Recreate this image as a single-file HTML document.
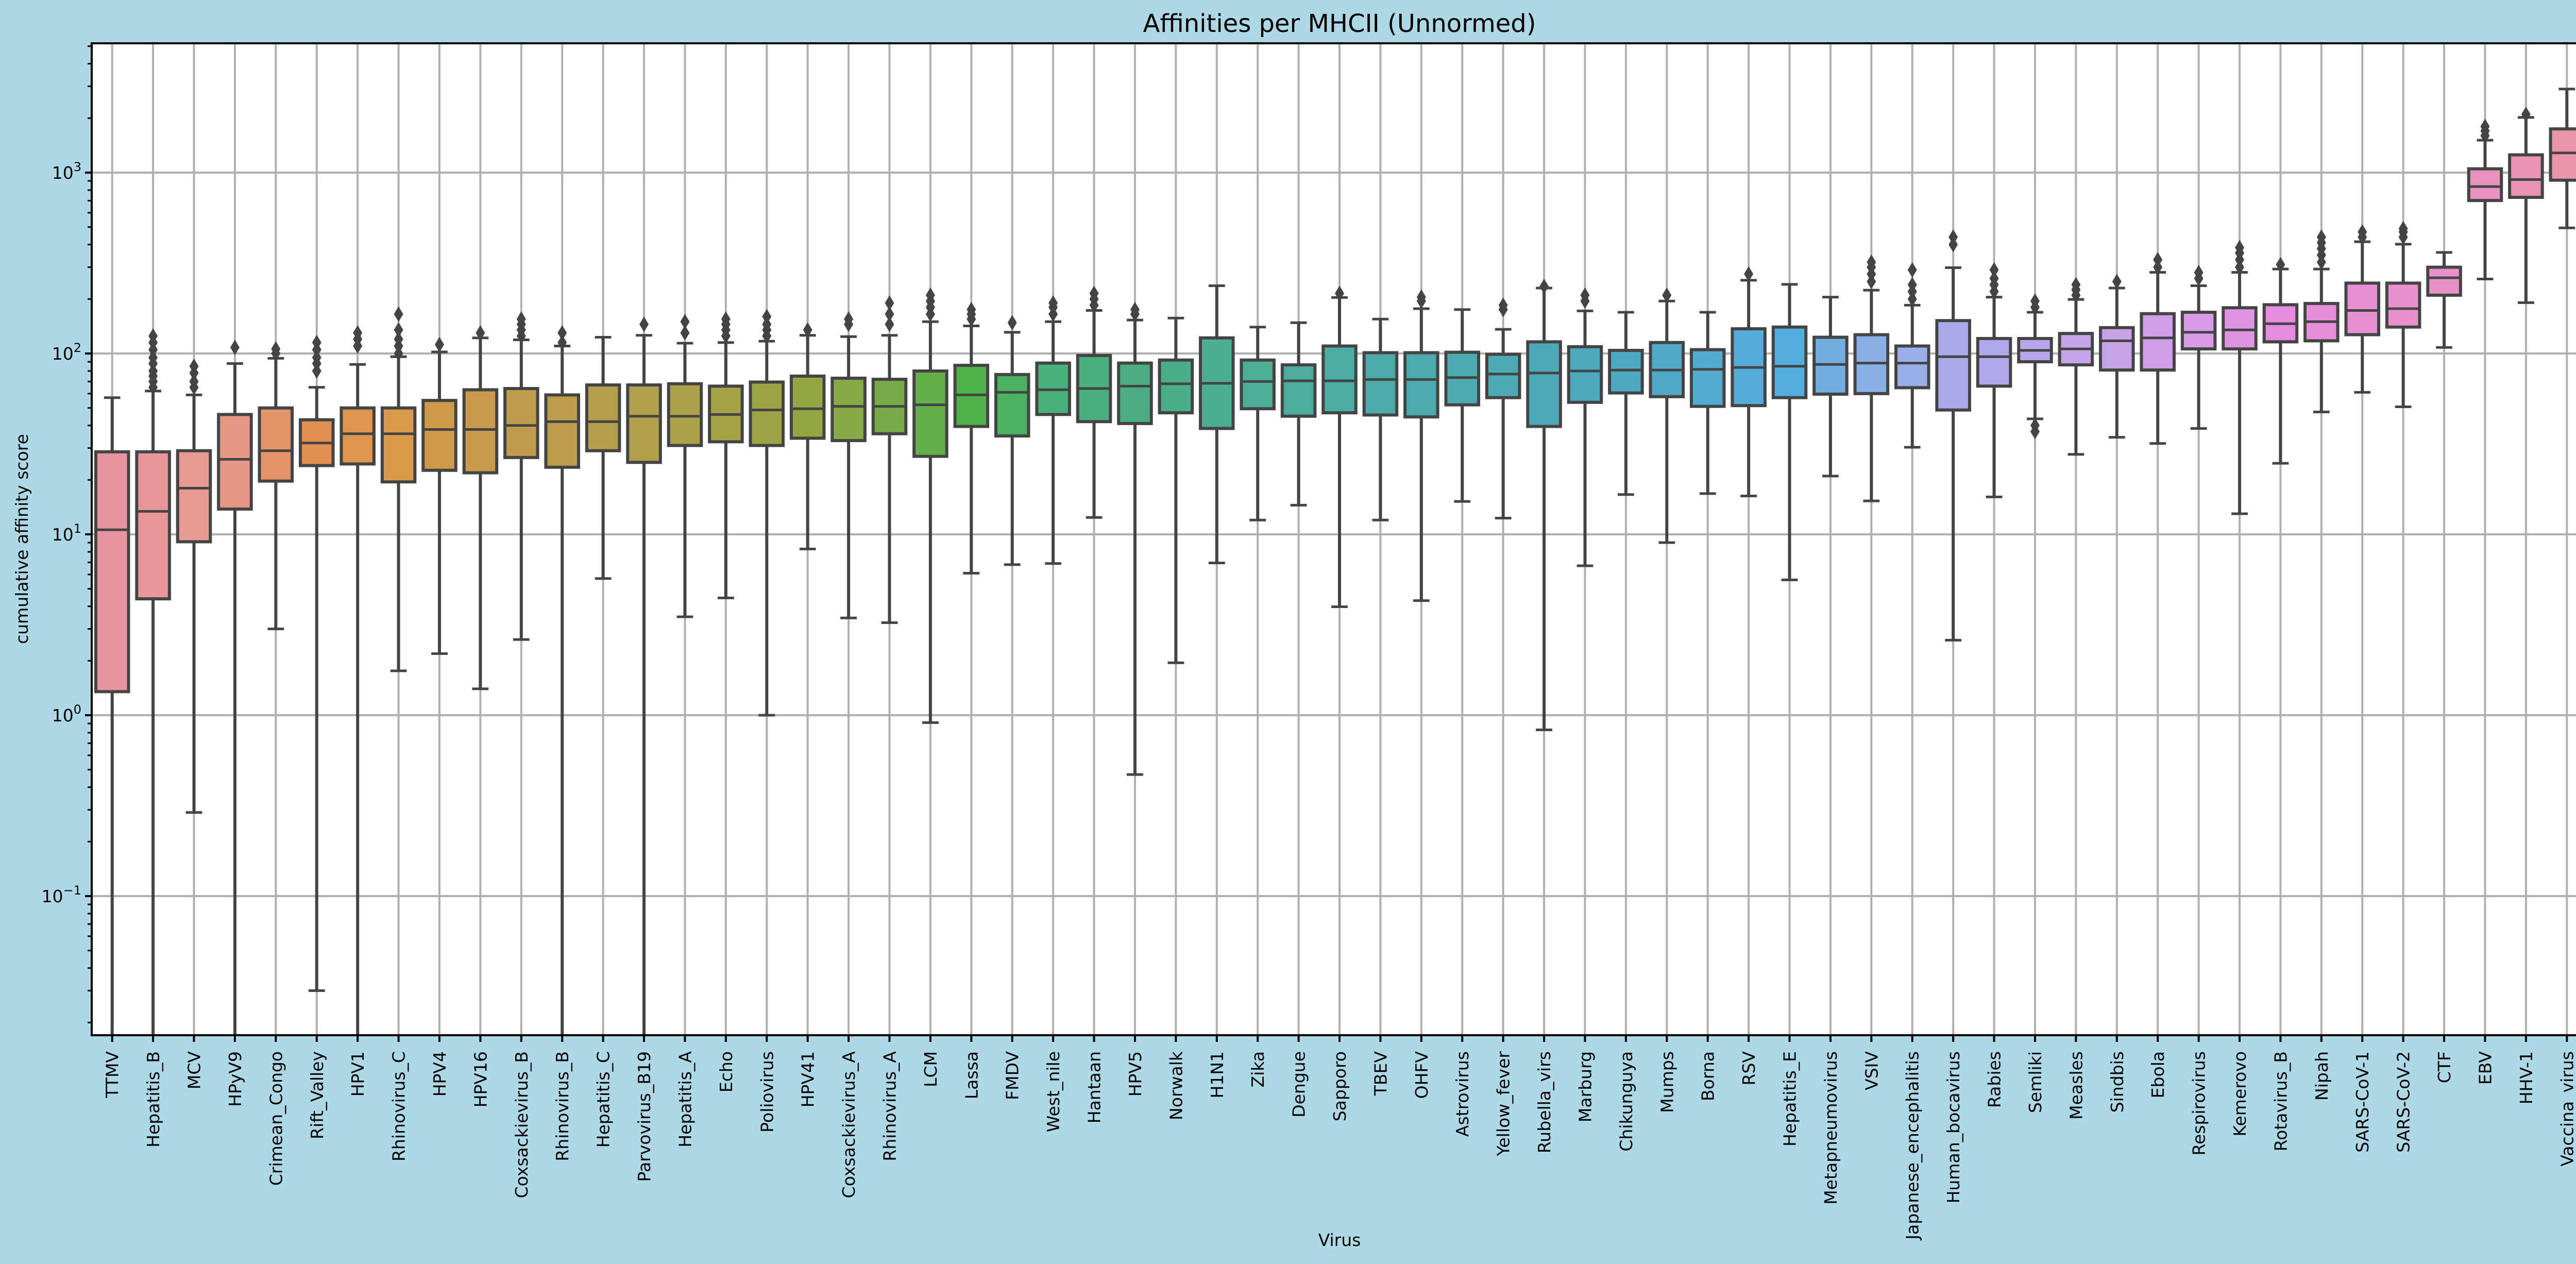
<!DOCTYPE html>
<html><head><meta charset="utf-8"><style>
html,body{margin:0;padding:0;background:#add8e6;overflow:hidden;}
svg{display:block;font-family:"DejaVu Sans","Liberation Sans",sans-serif;}
</style></head><body>
<svg id="chart" width="5046" height="2453" xmlns="http://www.w3.org/2000/svg">
<rect x="0" y="0" width="5046" height="2453" fill="#add8e6"/>
<text x="2600" y="62" font-size="48" text-anchor="middle" fill="#000">Affinities per MHCII (Unnormed)</text>
<text x="2600" y="2418" font-size="33" text-anchor="middle" fill="#000">Virus</text>
<text transform="translate(54,1046) rotate(-90)" font-size="33" text-anchor="middle" fill="#000">cumulative affinity score</text>
<g id="plot"></g>
</svg>
<script>
const categories=["TTMV","Hepatitis_B","MCV","HPyV9","Crimean_Congo","Rift_Valley","HPV1","Rhinovirus_C","HPV4","HPV16","Coxsackievirus_B","Rhinovirus_B","Hepatitis_C","Parvovirus_B19","Hepatitis_A","Echo","Poliovirus","HPV41","Coxsackievirus_A","Rhinovirus_A","LCM","Lassa","FMDV","West_nile","Hantaan","HPV5","Norwalk","H1N1","Zika","Dengue","Sapporo","TBEV","OHFV","Astrovirus","Yellow_fever","Rubella_virs","Marburg","Chikunguya","Mumps","Borna","RSV","Hepatitis_E","Metapneumovirus","VSIV","Japanese_encephalitis","Human_bocavirus","Rabies","Semliki","Measles","Sindbis","Ebola","Respirovirus","Kemerovo","Rotavirus_B","Nipah","SARS-CoV-1","SARS-CoV-2","CTF","EBV","HHV-1","Vaccina_virus"];
const whiskerLow=[0.001,0.001,0.29,0.001,3.0,0.03,0.001,1.76,2.19,1.4,2.62,0.001,5.7,0.001,3.5,4.45,1.0,8.3,3.45,3.25,0.91,6.1,6.8,6.9,12.4,0.47,1.95,6.95,12,14.5,3.98,12,4.3,15.2,12.3,0.83,6.7,16.6,9.0,16.8,16.3,5.6,21,15.3,30.3,2.6,16.1,43.5,27.7,34.4,31.8,38.5,13,24.7,47.5,61,50.7,108,258,191,495];
const q1=[1.35,4.4,9.1,13.8,19.7,24,24.5,19.5,22.6,21.9,26.6,23.5,29,25,31,32.5,31,34,33,36,27,39.5,35,46,42,41,47,38.5,49.5,45,47,45.7,44.6,52,57,39.5,53.7,60.5,57.7,51,51.5,57,59.6,60,64.7,48.7,66,90,86.5,81,81,106,106,116,117.5,127,140,210,701,730,908];
const median=[10.6,13.4,18,26,29,32,36,36,38,38,40,42,42,45,45,46,48.7,49.5,51,51,52,59,61,63,64,66,68,68.4,70,70.6,70.6,71.8,71.8,73.6,77,78,80,81,81,81.7,83.7,85,87,88.5,88.5,96,96,104,106,117.5,122,131,135,146,150,173,177,262,837,915,1285];
const q3=[28.6,28.6,29,46,50,43,50,50,55,63,64,59,67,67,68,66,69.5,75,73,72,80,86,76.5,88.5,97.5,88.5,92,122,92,86.5,110,101,101,101.6,99,116,109,104,115,105,137,140,123,127,110,152,121,121,129,139,166,169,179,186,189,245,245,300,1050,1254,1745];
const whiskerHigh=[57,62,59,88,94,65,87,96,102,122,119,110,123,126,114,115,117,126,124,126,150,142,131,150,173,153,157,237,140,148,204,155,177,175,136,230,172,169,195,169,254,241,205,224,185,298,205,169,199,230,281,237,281,293,293,415,402,362,1510,2020,2900];
const outliers=[[],[65,70,75,80,88,95,105,115,125],[65,70,78,85],[108],[100,106],[80,88,95,105,115],[110,120,130],[100,110,120,135,165],[112],[130],[125,135,145,155],[115,130],[],[145],[130,150],[125,135,145,155],[125,135,145,160],[135],[145,155],[145,165,190],[165,180,195,210],[155,165,175],[148],[165,180,190],[185,200,215],[165,175],[],[],[],[],[215],[],[195,205],[],[175,185],[235],[195,210],[],[210],[],[275],[],[],[250,275,300,320],[200,220,240,290],[400,440],[220,240,260,290],[180,195,37,40],[210,225,240],[250],[300,330],[260,280],[300,330,360,385],[310],[320,350,380,410,440],[440,470],[440,470,490],[],[1600,1700,1800],[2100],[]];
const yTickValues=[0.1,1,10,100,1000];
const yTickExponents=["−1","0","1","2","3"];

const NS="http://www.w3.org/2000/svg";
const L=178,R=5022,T=84,B=2009;
const step=(R-L)/categories.length;
function xPos(i){return L+step*(i+0.5);}
function yPos(v){return 335+(3-Math.log10(v))*351;}
function mk(tag,attrs,parent){const e=document.createElementNS(NS,tag);for(const k in attrs)e.setAttribute(k,attrs[k]);parent.appendChild(e);return e;}
const anchors=[[0,"#e8949f"],[2,"#e79a92"],[3,"#e69783"],[5,"#e2904f"],[7,"#d99a4c"],[8,"#ce9a4a"],[10,"#c09b4b"],[13,"#b0a04a"],[15,"#a3a245"],[17,"#93a642"],[19,"#7aab4a"],[21,"#4db24a"],[23,"#48b07a"],[25,"#4aae82"],[28,"#4aae98"],[31,"#4aaba8"],[35,"#4caab8"],[38,"#4faac8"],[40,"#55acd9"],[41,"#55aee0"],[42,"#72ade0"],[43,"#8aaee6"],[44,"#9aaeea"],[45,"#aaaaea"],[46,"#b0a8ea"],[47,"#b8a6ea"],[48,"#c3a4e8"],[49,"#c8a2e6"],[51,"#d89ae6"],[53,"#e58ce0"],[55,"#e88ed4"],[57,"#e890c8"],[60,"#e894a9"]];
function hex(c){return [1,3,5].map(k=>parseInt(c.substr(k,2),16));}
function colorAt(i){for(let a=0;a<anchors.length-1;a++){const [i0,c0]=anchors[a],[i1,c1]=anchors[a+1];if(i>=i0&&i<=i1){const t=(i-i0)/(i1-i0);const p=hex(c0),q=hex(c1);return "rgb("+p.map((v,k)=>Math.round(v+(q[k]-v)*t)).join(",")+")";}}return anchors[anchors.length-1][1];}

const svg=document.getElementById('chart');
const plot=document.getElementById('plot');
const defs=mk('defs',{},svg);
const cp=mk('clipPath',{id:'clip'},defs);
mk('rect',{x:L,y:T,width:R-L,height:B-T},cp);
const bg=mk('rect',{x:L,y:T,width:R-L,height:B-T,fill:"#fff"},plot);


const grid=mk('g',{stroke:"#b0b0b0","stroke-width":4},plot);


categories.forEach((c,i)=>{const x=xPos(i);const g=mk('line',{x1:x,x2:x,y1:T,y2:B},grid);});
yTickValues.forEach(v=>{const y=yPos(v);const g=mk('line',{x1:L,x2:R,y1:y,y2:y},grid);});

const boxes=mk('g',{"clip-path":"url(#clip)"},plot);


const bw=step*0.8, cw=bw*0.5, ink="#444444";
categories.forEach((c,i)=>{
  const x=xPos(i);
  const g=mk('g',{},boxes);
  
  
  const yl=yPos(whiskerLow[i]),y1=yPos(q1[i]),ym=yPos(median[i]),y3=yPos(q3[i]),yh=yPos(whiskerHigh[i]);
  const w1=mk('line',{x1:x,x2:x,y1:y1,y2:yl,stroke:ink,"stroke-width":6},g);
  
  const w2=mk('line',{x1:x,x2:x,y1:y3,y2:yh,stroke:ink,"stroke-width":6},g);
  
  const c1=mk('line',{x1:x-cw/2,x2:x+cw/2,y1:yl,y2:yl,stroke:ink,"stroke-width":5},g);
  
  const c2=mk('line',{x1:x-cw/2,x2:x+cw/2,y1:yh,y2:yh,stroke:ink,"stroke-width":5},g);
  
  const r=mk('rect',{x:x-bw/2,y:y3,width:bw,height:y1-y3,fill:colorAt(i),stroke:ink,"stroke-width":6},g);
  
  const m=mk('line',{x1:x-bw/2,x2:x+bw/2,y1:ym,y2:ym,stroke:ink,"stroke-width":5},g);
  
  outliers[i].forEach(v=>{const y=yPos(v);
    const d=mk('polygon',{points:`${x},${y-15} ${x+9},${y} ${x},${y+15} ${x-9},${y}`,fill:ink},g);
    });
});

const spine=mk('rect',{x:L,y:T,width:R-L,height:B-T,fill:"none",stroke:"#000","stroke-width":4},plot);



const yax=mk('g',{},plot);


for(let e=-2;e<=3;e++){for(let k=2;k<=9;k++){const v=k*Math.pow(10,e);const y=yPos(v);if(y<T||y>B)continue;
  const t=mk('line',{x1:L-8,x2:L,y1:y,y2:y,stroke:"#000","stroke-width":3},yax);}}
yTickValues.forEach((v,j)=>{const y=yPos(v);
  const t=mk('line',{x1:L-13,x2:L,y1:y,y2:y,stroke:"#000","stroke-width":4},yax);
  
  const tx=mk('text',{x:L-20,y:y+12,"font-size":33,"text-anchor":"end",fill:"#000"},yax);
  
  const a=mk('tspan',{},tx);a.textContent="10";
  const b=mk('tspan',{dy:-15,"font-size":24},tx);b.textContent=yTickExponents[j];
});
const xax=mk('g',{},plot);


categories.forEach((c,i)=>{const x=xPos(i);
  const t=mk('line',{x1:x,x2:x,y1:B,y2:B+13,stroke:"#000","stroke-width":4},xax);
  
  const tx=mk('text',{transform:`translate(${x+12},2040) rotate(-90)`,"font-size":33,"text-anchor":"end",fill:"#000"},xax);
  
  tx.textContent=c;
});
</script>
</body></html>
